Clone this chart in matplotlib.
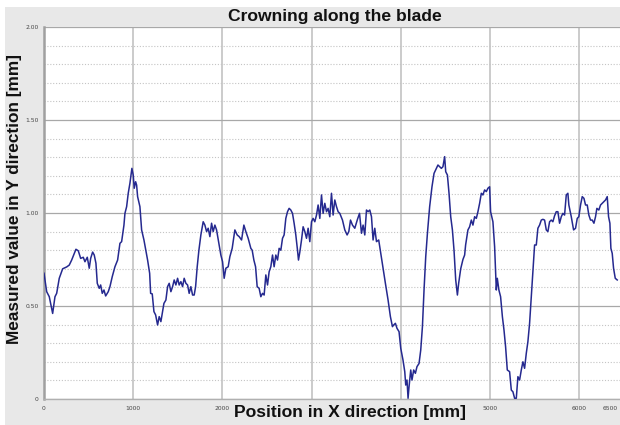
import matplotlib
matplotlib.use('Agg')
import matplotlib.pyplot as plt
import matplotlib.transforms as mtransforms
from matplotlib.patches import Rectangle
from matplotlib.ticker import MultipleLocator

# ---- data ----
position_mm = [
    0, 30, 59, 97, 123, 142, 171, 209, 254, 283, 310, 358, 384, 411, 440, 459, 485, 507, 523, 545,
    563, 582, 597, 619, 635, 653, 672, 691, 720, 739, 765, 795, 825, 851, 870, 896, 907, 926, 944, 963,
    985, 1000, 1011, 1027, 1038, 1049, 1075, 1094, 1120, 1161, 1184, 1195, 1213, 1232, 1251, 1273, 1291, 1310, 1325, 1344,
    1366, 1385, 1403, 1422, 1441, 1459, 1478, 1497, 1515, 1534, 1553, 1571, 1590, 1609, 1627, 1646, 1665, 1683, 1699, 1717,
    1736, 1758, 1784, 1803, 1822, 1840, 1859, 1878, 1896, 1915, 1934, 1960, 1982, 2001, 2019, 2038, 2064, 2083, 2109, 2139,
    2165, 2187, 2214, 2240, 2262, 2288, 2318, 2333, 2352, 2371, 2389, 2411, 2430, 2449, 2467, 2486, 2505, 2523, 2542, 2561,
    2579, 2598, 2617, 2635, 2654, 2673, 2691, 2710, 2729, 2747, 2766, 2785, 2803, 2822, 2841, 2852, 2867, 2886, 2904, 2923,
    2942, 2960, 2979, 2998, 3016, 3035, 3054, 3072, 3091, 3110, 3128, 3147, 3166, 3184, 3203, 3222, 3240, 3259, 3278, 3296,
    3315, 3345, 3371, 3397, 3416, 3435, 3457, 3483, 3513, 3536, 3558, 3576, 3595, 3614, 3632, 3651, 3670, 3688, 3707, 3726,
    3751, 3774, 3800, 3826, 3856, 3882, 3905, 3919, 3938, 3956, 3979, 3998, 4023, 4043, 4054, 4068, 4080, 4091, 4110, 4124,
    4143, 4162, 4180, 4203, 4222, 4241, 4259, 4278, 4297, 4322, 4348, 4371, 4397, 4415, 4434, 4453, 4471, 4490, 4502, 4521,
    4539, 4558, 4577, 4595, 4614, 4633, 4647, 4670, 4695, 4714, 4725, 4751, 4770, 4789, 4807, 4826, 4845, 4863, 4882, 4901,
    4919, 4938, 4957, 4975, 4994, 5005, 5031, 5050, 5069, 5080, 5098, 5117, 5137, 5155, 5173, 5192, 5218, 5237, 5255, 5274,
    5293, 5311, 5330, 5349, 5367, 5386, 5405, 5423, 5442, 5461, 5479, 5498, 5517, 5535, 5554, 5573, 5591, 5610, 5629, 5647,
    5666, 5685, 5703, 5722, 5741, 5759, 5778, 5797, 5815, 5834, 5853, 5871, 5882, 5909, 5935, 5957, 5976, 5994, 6013, 6032,
    6051, 6069, 6088, 6106, 6125, 6144, 6163, 6181, 6196, 6218, 6237, 6256, 6274, 6293, 6312, 6327, 6342, 6353, 6368, 6383,
    6402, 6424,
]
measured_mm = [
    0.676, 0.577, 0.550, 0.460, 0.550, 0.568, 0.649, 0.700, 0.710, 0.720, 0.747, 0.805, 0.797, 0.756, 0.762, 0.738, 0.762, 0.703, 0.756, 0.790,
    0.774, 0.730, 0.622, 0.595, 0.613, 0.568, 0.586, 0.554, 0.577, 0.604, 0.658, 0.711, 0.747, 0.837, 0.846, 0.935, 0.998, 1.034, 1.106, 1.160,
    1.240, 1.204, 1.133, 1.168, 1.150, 1.088, 1.034, 0.909, 0.855, 0.747, 0.676, 0.568, 0.565, 0.470, 0.452, 0.398, 0.443, 0.416, 0.460, 0.514,
    0.532, 0.604, 0.622, 0.577, 0.604, 0.640, 0.613, 0.649, 0.613, 0.631, 0.604, 0.649, 0.622, 0.613, 0.568, 0.604, 0.559, 0.559, 0.604, 0.711,
    0.800, 0.882, 0.953, 0.935, 0.900, 0.918, 0.873, 0.945, 0.900, 0.935, 0.909, 0.837, 0.774, 0.738, 0.649, 0.703, 0.711, 0.765, 0.810, 0.909,
    0.882, 0.873, 0.855, 0.935, 0.900, 0.864, 0.810, 0.800, 0.747, 0.711, 0.604, 0.595, 0.550, 0.568, 0.559, 0.667, 0.613, 0.684, 0.711, 0.774,
    0.711, 0.774, 0.747, 0.810, 0.800, 0.864, 0.882, 0.971, 1.007, 1.025, 1.016, 0.998, 0.945, 0.882, 0.800, 0.747, 0.790, 0.855, 0.926, 0.900,
    0.864, 0.918, 0.846, 0.953, 0.971, 0.953, 0.989, 1.043, 0.971, 1.097, 0.998, 1.052, 1.007, 1.025, 0.980, 1.106, 0.989, 1.070, 1.034, 1.007,
    0.998, 0.962, 0.909, 0.882, 0.900, 0.962, 0.935, 0.918, 0.966, 0.998, 0.891, 0.935, 0.882, 1.016, 1.007, 1.016, 0.980, 0.855, 0.918, 0.846,
    0.855, 0.783, 0.703, 0.622, 0.532, 0.443, 0.389, 0.398, 0.407, 0.380, 0.362, 0.273, 0.210, 0.147, 0.075, 0.102, 0.004, 0.066, 0.156, 0.102,
    0.156, 0.138, 0.174, 0.191, 0.263, 0.389, 0.586, 0.765, 0.891, 1.034, 1.141, 1.213, 1.240, 1.258, 1.249, 1.240, 1.249, 1.303, 1.222, 1.204,
    1.106, 0.980, 0.909, 0.800, 0.640, 0.559, 0.622, 0.700, 0.750, 0.774, 0.828, 0.909, 0.926, 0.962, 0.935, 0.980, 0.971, 1.007, 1.052, 1.106,
    1.097, 1.124, 1.115, 1.133, 1.141, 1.007, 0.953, 0.819, 0.586, 0.649, 0.586, 0.550, 0.443, 0.371, 0.281, 0.156, 0.147, 0.048, 0.039, 0.004,
    0.004, 0.120, 0.102, 0.156, 0.200, 0.165, 0.246, 0.308, 0.407, 0.550, 0.684, 0.828, 0.828, 0.918, 0.935, 0.962, 0.966, 0.962, 0.909, 0.900,
    0.953, 0.962, 0.953, 0.985, 1.007, 1.007, 0.945, 0.980, 0.998, 0.989, 1.097, 1.106, 1.043, 0.980, 0.909, 0.918, 0.971, 0.980, 1.043, 1.088,
    1.079, 1.043, 1.043, 0.989, 0.962, 0.962, 0.945, 0.980, 1.025, 1.016, 1.043, 1.052, 1.061, 1.070, 1.088, 0.980, 0.945, 0.810, 0.783, 0.703,
    0.649, 0.640,
]

x_ticks = [0, 1000, 2000, 3000, 4000, 5000, 6000, 6500]
x_tick_labels = ['0', '1000', '2000', '', '', '5000', '6000', '6500']
y_ticks = [0, 0.5, 1.0, 1.5, 2.0]
y_tick_labels = ['0', '0.50', '1.00', '1.50', '2.00']

title = 'Crowning along the blade'
x_label = 'Position in X direction [mm]'
y_label = 'Measured value in Y direction [mm]'

# ---- figure ----
W, H = 620, 425
fig = plt.figure(figsize=(W / 100, H / 100), dpi=100, facecolor='white')
bg = '#e8e8e8'
fig.patches.append(Rectangle((5 / W, 0), 1, (H - 7) / H, transform=fig.transFigure,
                             facecolor=bg, edgecolor='none', zorder=-10))

ax = fig.add_axes([44 / W, (H - 399) / H, 580 / W, 372 / H])
ax.set_zorder(1)
ax.set_facecolor('white')
ax.plot(position_mm, measured_mm, color='#25298f', lw=1.1, zorder=5)

ax.set_xlim(0, 6500)
ax.set_ylim(0, 2.0)
ax.set_xticks(x_ticks)
ax.set_xticklabels(x_tick_labels)
ax.set_yticks(y_ticks)
ax.set_yticklabels(y_tick_labels)
ax.yaxis.set_minor_locator(MultipleLocator(0.1))
ax.tick_params(axis='both', which='both', length=0, labelsize=4.3, labelcolor='#444444')
ax.tick_params(axis='x', pad=5)
ax.tick_params(axis='y', pad=4)
shift = mtransforms.ScaledTranslation(-6 / 100, 0, fig.dpi_scale_trans)
for lab in ax.get_xticklabels():
    if lab.get_text() == '6500':
        lab.set_horizontalalignment('right')
        lab.set_transform(lab.get_transform() + shift)

ax.grid(True, axis='y', which='minor', color='#c4c4c4', lw=0.8, linestyle=(0, (1, 1.6)))
ax.grid(True, axis='y', which='major', color='#a8a8a8', lw=0.9)
for xv in range(0, 6001, 1000):
    ax.axvline(xv, color='#c2c2c2', lw=1.2, zorder=1)

for s in ['top', 'right']:
    ax.spines[s].set_visible(False)
ax.spines['left'].set_color('#a0a0a0')
ax.spines['left'].set_linewidth(1.8)
ax.spines['bottom'].set_color('#b0b0b0')
ax.spines['bottom'].set_linewidth(1.0)

fs = dict(family=['Liberation Sans', 'DejaVu Sans'], weight='bold', color='#111111')
fig.text(335 / W, (H - 16) / H, title, ha='center', va='center', fontsize=12.6, **fs)
fig.text(15 / W, (H - 199) / H, y_label, ha='center', va='center', rotation=90, fontsize=12.4, **fs)
fig.text(350 / W, (H - 412) / H, x_label, ha='center', va='center', fontsize=12.6, **fs)

fig.savefig('out.png', dpi=100, facecolor=fig.get_facecolor())
